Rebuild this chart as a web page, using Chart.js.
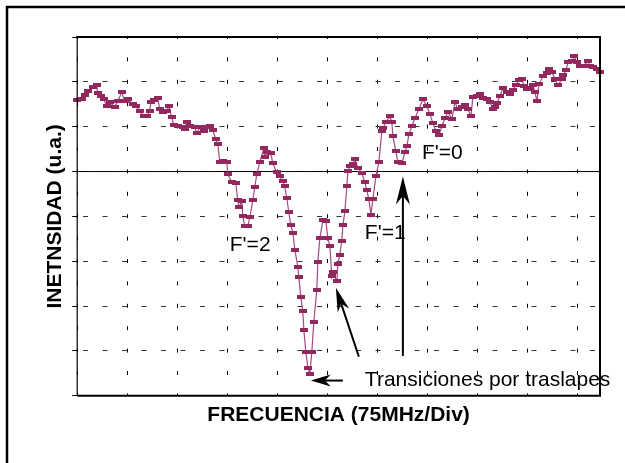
<!DOCTYPE html>
<html>
<head>
<meta charset="utf-8">
<script src="https://cdn.jsdelivr.net/npm/chart.js@4.4.1/dist/chart.umd.min.js"></script>
<style>
  html, body { margin: 0; padding: 0; background: #fff; }
  #wrap { width: 625px; height: 463px; position: relative; }
</style>
</head>
<body>
<div id="wrap"><canvas id="grafico" width="625" height="463"></canvas></div>
<script>
// frecuencia en divisiones (75 MHz/Div), intensidad en divisiones verticales
const frecuencia = [
  0.00, 0.09, 0.15, 0.21, 0.31, 0.39, 0.41, 0.47, 0.53, 0.59,
  0.65, 0.75, 0.81, 0.89, 0.95, 1.01, 1.11, 1.17, 1.25, 1.33,
  1.39, 1.45, 1.47, 1.53, 1.61, 1.65, 1.71, 1.79, 1.83, 1.89,
  1.93, 2.01, 2.11, 2.15, 2.19, 2.25, 2.35, 2.39, 2.45, 2.53,
  2.59, 2.65, 2.71, 2.77, 2.81, 2.85, 2.91, 2.99, 3.01, 3.09,
  3.17, 3.21, 3.23, 3.29, 3.31, 3.35, 3.41, 3.45, 3.51, 3.55,
  3.59, 3.65, 3.73, 3.75, 3.79, 3.87, 3.91, 3.99, 4.05, 4.11,
  4.15, 4.19, 4.23, 4.27, 4.31, 4.35, 4.41, 4.43, 4.47, 4.51,
  4.53, 4.57, 4.61, 4.65, 4.69, 4.73, 4.79, 4.81, 4.85, 4.91,
  4.97, 5.01, 5.05, 5.09, 5.11, 5.19, 5.21, 5.25, 5.29, 5.31,
  5.35, 5.39, 5.41, 5.45, 5.51, 5.55, 5.61, 5.69, 5.75, 5.79,
  5.83, 5.87, 5.91, 5.97, 6.03, 6.09, 6.11, 6.17, 6.25, 6.29,
  6.31, 6.37, 6.41, 6.49, 6.55, 6.59, 6.63, 6.69, 6.75, 6.83,
  6.91, 6.99, 7.05, 7.11, 7.17, 7.23, 7.29, 7.35, 7.41, 7.49,
  7.55, 7.61, 7.69, 7.75, 7.81, 7.87, 7.91, 7.99, 8.05, 8.11,
  8.19, 8.25, 8.31, 8.35, 8.39, 8.45, 8.51, 8.59, 8.65, 8.71,
  8.77, 8.83, 8.89, 8.93, 8.99, 9.05, 9.11, 9.15, 9.19, 9.23,
  9.31, 9.39, 9.43, 9.49, 9.55, 9.61, 9.69, 9.71, 9.77, 9.81,
  9.89, 9.93, 9.99, 10.05, 10.11, 10.21, 10.25, 10.31, 10.39, 10.45
];
const intensidad = [
  6.59, 6.61, 6.70, 6.79, 6.88, 6.93, 6.75, 6.68, 6.61, 6.46,
  6.55, 6.44, 6.57, 6.77, 6.57, 6.61, 6.50, 6.46, 6.35, 6.23,
  6.23, 6.35, 6.55, 6.59, 6.64, 6.39, 6.32, 6.35, 6.46, 6.21,
  6.03, 6.01, 5.99, 5.94, 6.10, 6.01, 5.99, 5.85, 5.99, 5.90,
  5.99, 6.01, 5.92, 5.72, 5.61, 5.21, 5.23, 5.21, 4.94, 4.76,
  4.74, 4.36, 4.20, 4.34, 4.00, 3.78, 3.78, 3.98, 4.36, 4.65,
  4.94, 5.21, 5.52, 5.32, 5.43, 5.41, 5.18, 4.98, 4.89, 4.78,
  4.67, 4.40, 4.09, 3.80, 3.64, 3.26, 2.88, 2.64, 2.21, 1.88,
  1.47, 0.98, 0.63, 0.49, 0.98, 1.65, 2.37, 2.99, 3.51, 3.91,
  3.89, 3.51, 3.35, 2.66, 2.77, 2.55, 2.93, 3.15, 3.46, 3.80,
  4.11, 4.67, 5.01, 5.12, 5.16, 5.27, 5.09, 4.96, 4.76, 4.58,
  4.38, 4.04, 4.38, 4.89, 5.21, 5.90, 5.97, 6.10, 6.23, 6.10,
  5.79, 5.45, 5.21, 5.18, 5.43, 5.56, 5.83, 6.01, 6.19, 6.39,
  6.61, 6.46, 6.28, 6.08, 5.90, 5.81, 6.01, 6.19, 6.32, 6.17,
  6.55, 6.39, 6.44, 6.48, 6.39, 6.23, 6.66, 6.68, 6.73, 6.64,
  6.61, 6.55, 6.39, 6.44, 6.53, 6.68, 6.86, 6.77, 6.73, 6.82,
  6.93, 7.04, 7.06, 6.91, 6.84, 6.86, 6.93, 6.77, 6.57, 6.95,
  7.13, 7.20, 7.28, 7.22, 7.06, 6.93, 7.06, 7.15, 7.26, 7.44,
  7.46, 7.58, 7.44, 7.35, 7.35, 7.46, 7.35, 7.33, 7.28, 7.22
];
const divisionesX = [0, 1, 2, 3, 4, 5, 6, 7, 8, 9, 10];
const divisionesY = [0, 1, 2, 3, 4, 5, 6, 7, 8];
const nivelReferencia = 5;

// anotaciones en coordenadas de la grafica
const etiquetas = [
  { texto: "F'=2", x: 3.05, y: 3.22 },
  { texto: "F'=1", x: 5.75, y: 3.49 },
  { texto: "F'=0", x: 6.89, y: 5.27 },
  { texto: "Transiciones por traslapes", x: 5.75, y: 0.22 }
];
const flechas = [
  { desde: [6.51, 0.89], hasta: [6.51, 4.89], largo: 28, ancho: 7 },
  { desde: [5.63, 0.87], hasta: [5.17, 2.41], largo: 24, ancho: 6 },
  { desde: [5.31, 0.34], hasta: [4.67, 0.34], largo: 20, ancho: 6 }
];

const fuente = "'Liberation Sans', Arial, sans-serif";
const colorLinea = "#a24d80";
const colorMarca = "#92285e";

// marca rectangular como en el osciloscopio
const marca = document.createElement("canvas");
marca.width = 8;
marca.height = 4;
const mctx = marca.getContext("2d");
mctx.fillStyle = colorMarca;
mctx.fillRect(0, 0, 8, 4);

const dibujarFlecha = (ctx, x1, y1, x2, y2, largo, ancho) => {
  const ang = Math.atan2(y2 - y1, x2 - x1);
  const ux = Math.cos(ang), uy = Math.sin(ang);
  const bx = x2 - ux * largo, by = y2 - uy * largo;
  const nx = x2 - ux * largo * 0.7, ny = y2 - uy * largo * 0.7;
  ctx.beginPath();
  ctx.moveTo(x1, y1);
  ctx.lineTo(nx, ny);
  ctx.lineWidth = 2;
  ctx.strokeStyle = "#000";
  ctx.stroke();
  ctx.beginPath();
  ctx.moveTo(x2, y2);
  ctx.lineTo(bx - uy * ancho, by + ux * ancho);
  ctx.lineTo(nx, ny);
  ctx.lineTo(bx + uy * ancho, by - ux * ancho);
  ctx.closePath();
  ctx.fillStyle = "#000";
  ctx.fill();
};

const marco = {
  id: "marco",
  beforeDatasetsDraw(chart) {
    const { ctx, chartArea: a, scales } = chart;
    const y = scales.y.getPixelForValue(nivelReferencia);
    ctx.save();
    ctx.strokeStyle = "#000";
    ctx.lineWidth = 1;
    ctx.beginPath();
    ctx.moveTo(a.left, y);
    ctx.lineTo(a.right, y);
    ctx.stroke();
    ctx.restore();
  },
  afterDraw(chart) {
    const { ctx, chartArea: a, scales } = chart;
    ctx.save();
    ctx.strokeStyle = "#000";
    // marco de la figura
    ctx.lineWidth = 2.5;
    ctx.beginPath();
    ctx.moveTo(7, 463);
    ctx.lineTo(7, 7);
    ctx.lineTo(625, 7);
    ctx.stroke();
    // bordes del area de la grafica
    ctx.lineWidth = 2;
    ctx.beginPath();
    ctx.moveTo(a.left - 1, a.top);
    ctx.lineTo(a.right, a.top);
    ctx.lineTo(a.right, a.bottom);
    ctx.lineTo(a.left, a.bottom);
    ctx.stroke();
    ctx.lineWidth = 1.2;
    ctx.beginPath();
    ctx.moveTo(a.left, a.top);
    ctx.lineTo(a.left, a.bottom);
    ctx.stroke();

    flechas.forEach(f => {
      dibujarFlecha(ctx,
        scales.x.getPixelForValue(f.desde[0]), scales.y.getPixelForValue(f.desde[1]),
        scales.x.getPixelForValue(f.hasta[0]), scales.y.getPixelForValue(f.hasta[1]),
        f.largo, f.ancho);
    });

    ctx.fillStyle = "#000";
    ctx.font = "21px " + fuente;
    ctx.textBaseline = "alphabetic";
    ctx.textAlign = "left";
    etiquetas.forEach(e => {
      ctx.fillText(e.texto, scales.x.getPixelForValue(e.x), scales.y.getPixelForValue(e.y));
    });
    ctx.restore();
  }
};

new Chart(document.getElementById("grafico"), {
  type: "line",
  data: {
    datasets: [{
      data: frecuencia.map((f, i) => ({ x: f, y: intensidad[i] })),
      borderColor: colorLinea,
      borderWidth: 1.2,
      pointStyle: marca,
      pointRadius: 4,
      tension: 0,
      fill: false,
      clip: false
    }]
  },
  options: {
    responsive: false,
    animation: false,
    events: [],
    layout: { padding: { left: 43, right: 25, top: 37, bottom: 35 } },
    plugins: { legend: { display: false }, tooltip: { enabled: false } },
    scales: {
      x: {
        type: "linear",
        min: 0,
        max: 10.45,
        afterBuildTicks: s => { s.ticks = divisionesX.map(v => ({ value: v })); },
        ticks: { display: false },
        grid: { color: "#000", lineWidth: 1, drawTicks: false },
        border: { display: false, dash: [4, 18.4], dashOffset: 2 },
        title: {
          display: true,
          text: "FRECUENCIA (75MHz/Div)",
          color: "#000",
          font: { family: fuente, size: 21, weight: "bold" },
          padding: { top: 7, bottom: 0 }
        }
      },
      y: {
        type: "linear",
        min: 0,
        max: 8,
        afterBuildTicks: s => { s.ticks = divisionesY.map(v => ({ value: v })); },
        ticks: { display: false },
        grid: { color: "#333", lineWidth: 1, drawTicks: true, tickLength: 5, tickColor: "#000", tickWidth: 1 },
        border: { display: false, dash: [5, 14.5], dashOffset: -6 },
        title: {
          display: true,
          text: "INETNSIDAD (u.a.)",
          color: "#000",
          font: { family: fuente, size: 21, weight: "bold" },
          padding: { top: 0, bottom: 4 }
        }
      }
    }
  },
  plugins: [marco]
});
</script>
</body>
</html>
